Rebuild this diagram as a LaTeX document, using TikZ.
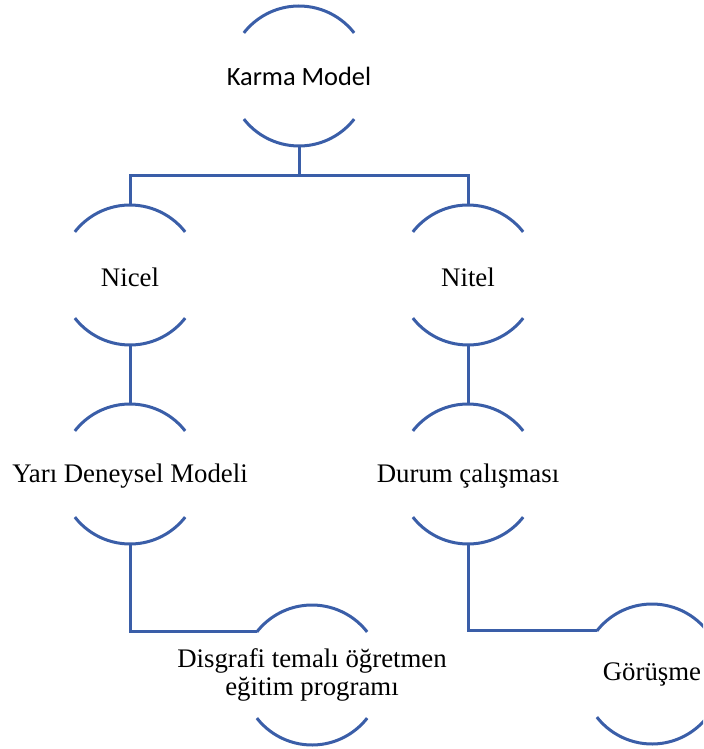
\documentclass[tikz,border=0pt]{standalone}
\usepackage{fontspec}
\setmainfont{Liberation Serif}
\newfontfamily\calfont{Carlito}
\usetikzlibrary{positioning}
\definecolor{ringblue}{RGB}{58,94,168}

\begin{document}
\begin{tikzpicture}[
 x=0.5pt,y=-0.5pt,
 font=\fontsize{13.4}{14}\selectfont,
 ring/.style={circle,minimum size=70pt,inner sep=0pt,outer sep=0pt},
 ringline/.style={draw=ringblue,line width=1.5pt},
 conn/.style={draw=ringblue,line width=1.5pt},
 txt/.style={align=center,inner sep=0pt}]
\useasboundingbox (0,0) rectangle (703,749);
\clip (0,0) rectangle (703,749);
% rings
\node[ring] (km) at (299,76) {};
\node[ring] (nicel) at (130,275) {};
\node[ring] (nitel) at (468,275) {};
\node[ring] (yari) at (130,474) {};
\node[ring] (durum) at (468,474) {};
\node[ring] (disg) at (312,675) {};
\node[ring] (gor) at (652,674) {};
\foreach \n in {km,nicel,nitel,yari,durum,disg,gor} {
 \draw[ringline] (\n.38) arc[start angle=38,end angle=142,radius=35pt];
 \draw[ringline] (\n.218) arc[start angle=218,end angle=322,radius=35pt];
}
% texts
\node[txt,font=\calfont\fontsize{13.2}{14}\selectfont] (km-t) at (km) {Karma Model};
\node[txt] (nicel-t) at ([yshift=-1pt]nicel) {Nicel};
\node[txt] (nitel-t) at ([yshift=-1pt]nitel) {Nitel};
\node[txt] (yari-t) at ([yshift=-1pt]yari) {Yarı Deneysel Modeli};
\node[txt] (durum-t) at ([yshift=-1pt]durum) {Durum çalışması};
\node[txt] (disg-t) at (disg) {Disgrafi temalı öğretmen\\eğitim programı};
\node[txt] (gor-t) at (gor) {Görüşme};
% connectors
\coordinate (split) at (299,175);
\draw[conn] (km.south) -- (split);
\draw[conn] (nicel.north) |- (split) -| (nitel.north);
\draw[conn] (nicel.south) -- (yari.north);
\draw[conn] (nitel.south) -- (durum.north);
\draw[conn] (yari.south) |- (disg.142);
\draw[conn] (durum.south) |- (gor.142);
\end{tikzpicture}
\end{document}
